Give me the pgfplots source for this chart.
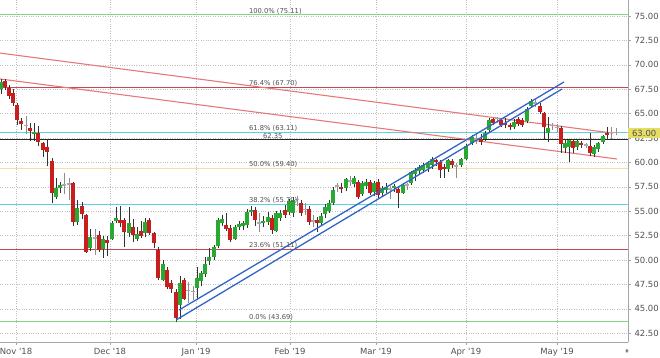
\documentclass[border=0pt]{standalone}
\usepackage{fontspec}
\setmainfont{DejaVu Sans}
\usepackage{pgfplots}
\usepackage{pgfplotstable}
\pgfplotsset{compat=1.18}
\definecolor{cgreen}{RGB}{40,170,50}
\definecolor{cred}{RGB}{200,30,30}
\definecolor{cgray}{RGB}{170,170,170}
\definecolor{wick}{RGB}{50,50,50}
\definecolor{wickgray}{RGB}{140,140,140}
\definecolor{fibgreen}{RGB}{130,215,130}
\definecolor{fibred}{RGB}{200,70,80}
\definecolor{fibcyan}{RGB}{90,210,225}
\definecolor{fibyellow}{RGB}{240,225,170}
\definecolor{trendred}{RGB}{230,120,120}
\definecolor{chanblue}{RGB}{50,100,200}
\definecolor{pricebox}{RGB}{230,222,100}
\definecolor{labgray}{RGB}{80,80,80}

\pgfplotstableread{
x o h l c
1 67.5 68.5 67.0 68.2
34 62.9 64.0 62.2 63.1
56 56.5 58.4 56.2 57.4
60 57.4 58.0 56.9 57.7
77 53.9 56.1 53.6 55.3
90 51.2 53.2 50.9 52.4
103 51.1 52.5 50.2 52.2
112 52.2 54.0 52.0 53.8
116 54.0 55.4 53.8 54.3
129 52.8 55.4 52.4 53.8
137 52.2 53.4 51.9 52.7
145 52.8 54.3 52.4 53.9
163 48.0 50.0 47.8 49.6
180 45.4 48.4 44.0 47.6
197 47.1 49.3 45.9 48.2
201 47.8 48.9 47.3 48.7
205 48.6 50.3 48.3 49.6
209 49.9 51.2 49.5 50.3
214 50.3 51.5 50.0 51.3
218 51.4 54.3 51.2 54.1
222 53.8 54.6 53.5 54.2
235 52.2 53.6 52.0 53.4
239 53.4 54.0 53.1 53.7
243 53.5 54.0 53.1 53.8
247 53.6 55.2 53.3 54.9
251 54.9 55.5 54.5 55.1
263 53.8 54.5 53.4 54.0
268 53.9 54.9 53.6 54.4
276 53.0 55.0 52.9 54.8
280 54.3 55.1 54.0 54.8
289 54.9 56.3 54.6 56.0
293 54.8 56.5 54.4 56.1
321 53.8 54.8 53.6 54.5
325 54.7 55.7 54.3 55.4
329 55.0 56.1 54.8 55.8
333 55.8 57.5 55.6 57.2
346 57.4 58.4 57.1 58.3
354 57.8 58.6 57.5 58.4
362 56.8 58.1 56.6 57.9
366 57.6 58.3 57.3 58.0
374 57.0 58.1 56.6 57.9
382 56.9 57.6 56.6 57.4
386 57.2 57.9 56.9 57.5
394 57.4 57.8 57.0 57.6
403 56.9 57.9 56.8 57.7
411 57.9 59.1 57.7 59.0
415 58.8 59.4 58.1 59.2
419 59.1 59.7 58.7 59.5
423 59.2 59.9 58.9 59.7
428 59.4 60.1 59.0 59.9
432 59.7 60.6 59.3 60.4
448 59.3 60.4 59.0 60.2
461 59.7 60.5 59.5 60.3
466 60.4 61.9 60.2 61.7
472 62.0 62.8 61.8 62.6
485 62.4 63.2 62.2 63.0
489 63.3 64.5 63.1 64.3
514 63.6 64.4 63.4 64.1
527 64.2 65.7 64.0 65.5
531 65.8 66.5 65.6 66.3
548 63.0 64.7 62.1 63.5
565 61.5 62.4 61.0 62.0
569 61.6 62.4 60.0 62.3
577 61.6 62.4 61.3 62.2
594 60.9 61.8 60.6 61.6
598 61.4 62.1 61.1 62.0
603 62.1 62.8 61.9 62.7
}\greentab

\pgfplotstableread{
x o h l c
5 68.3 68.5 67.4 67.7
9 67.6 67.9 66.5 66.8
13 67.1 67.5 65.8 66.1
17 65.9 66.1 63.8 64.3
21 64.2 64.6 63.3 63.9
30 63.5 64.0 62.2 63.2
38 63.0 63.7 61.7 62.1
43 62.0 62.1 60.6 61.3
47 61.6 62.3 59.6 61.1
52 60.1 60.5 55.8 56.9
73 57.9 58.0 53.5 53.9
82 55.5 55.9 54.2 54.7
86 54.6 54.7 50.7 50.8
99 52.6 53.0 50.8 51.0
107 52.1 52.5 50.4 51.7
120 54.1 55.5 53.4 53.8
124 54.1 54.3 51.3 52.9
133 53.4 54.2 51.8 52.6
141 53.0 54.0 52.3 52.5
149 54.1 54.3 52.6 52.8
154 52.8 52.9 51.2 51.7
158 51.0 51.3 48.0 48.2
167 49.0 49.3 47.0 47.2
171 47.6 48.0 46.6 47.0
176 46.7 47.0 43.69 44.1
184 48.0 48.2 45.9 46.0
226 53.6 54.8 53.0 53.2
230 53.3 53.6 51.8 52.0
255 55.1 55.4 53.5 54.1
272 54.3 54.6 52.7 53.1
285 55.1 55.6 54.3 54.6
301 55.8 56.1 54.5 54.8
309 55.2 55.5 53.6 53.9
317 54.1 54.4 52.9 53.8
341 57.5 57.9 56.9 57.3
358 58.0 58.2 56.3 56.5
370 58.0 58.2 56.7 56.9
378 58.0 58.3 56.4 56.7
398 57.3 57.5 55.3 56.9
436 60.2 60.4 59.6 60.0
440 60.0 60.2 58.4 59.2
444 59.5 59.8 58.4 59.3
452 60.1 60.3 59.4 59.7
481 62.4 62.9 61.8 62.1
493 64.4 64.6 63.8 64.0
501 64.3 64.6 63.6 63.8
505 64.0 64.5 63.5 63.8
510 63.8 64.0 63.3 63.6
518 64.4 64.7 63.7 63.9
522 64.3 64.5 63.6 63.8
540 65.8 66.1 65.0 65.2
544 65.1 65.2 62.3 63.6
561 63.5 63.7 61.0 61.9
573 62.2 62.3 61.0 61.5
581 62.0 62.2 61.5 61.8
590 61.7 63.0 60.7 61.0
607 63.0 63.6 62.4 62.8
}\redtab

\pgfplotstableread{
x o h l c
26 63.85 64.8 62.9 63.7
64 57.75 58.9 56.8 57.6
69 57.85 58.4 56.1 57.7
95 52.35 53.2 50.5 52.2
188 46.95 47.7 45.6 46.8
193 46.85 47.3 45.9 46.7
259 53.85 54.8 52.9 53.7
297 56.25 56.6 55.5 56.1
305 55.25 55.8 54.6 55.1
313 54.05 54.6 53.4 53.9
337 57.65 57.9 57.0 57.5
350 58.15 58.6 57.6 58.0
390 57.35 57.6 56.3 57.2
407 57.75 57.9 57.2 57.6
456 59.70 59.9 58.4 59.55
476 62.45 62.9 61.9 62.3
497 64.55 64.7 64.0 64.4
535 66.15 66.5 65.7 66.0
552 63.85 64.0 63.3 63.7
557 63.65 63.9 63.1 63.5
586 61.85 62.0 61.5 61.7
611 63.15 63.6 62.4 63.0
616 63.15 63.5 62.8 63.0
}\graytab

\pgfplotsset{
  candle/.style 2 args={draw=none, no markers, forget plot,
    error bars/.cd, y dir=plus, y explicit, error mark=none,
    error bar style={line width=#1, draw=#2, solid}},
  hline/.style={draw=#1, line width=0.9bp, no markers, forget plot},
}

\begin{document}
\begin{tikzpicture}
\useasboundingbox (0,0) rectangle (660bp,358bp);
\begin{axis}[
  at={(0,16bp)}, anchor=south west,
  scale only axis, width=628bp, height=342bp,
  xmin=0, xmax=628, ymin=41.6, ymax=76.64,
  axis x line*=bottom, axis y line*=right,
  axis line style={draw=gray!70, line width=0.5bp},
  xtick={16,110,196,290,376,466,557},
  xticklabels={Nov \textquotesingle18, Dec \textquotesingle18, Jan \textquotesingle19, Feb \textquotesingle19, Mar \textquotesingle19, Apr \textquotesingle19, May \textquotesingle19},
  ytick={42.5,45,47.5,50,52.5,55,57.5,60,62.5,65,67.5,70,72.5,75},
  yticklabel pos=right,
  tick label style={font=\fontsize{8.5}{10}\selectfont, text=labgray},
  y tick label style={/pgf/number format/.cd, fixed, fixed zerofill, precision=2, assume math mode=true},
  tick align=outside, major tick length=3bp,
  tick style={draw=gray!70, line width=0.4bp},
  grid=major,
  major grid style={dotted, draw=gray!50, line width=0.4bp},
  clip=true,
]
% fibonacci levels
\addplot[hline=fibgreen] coordinates {(0,75.11) (628,75.11)};
\addplot[hline=fibred] coordinates {(0,67.70) (628,67.70)};
\addplot[hline=fibcyan] coordinates {(0,63.11) (628,63.11)};
\addplot[hline=black!85, line width=1.6bp] coordinates {(0,62.35) (628,62.35)};
\addplot[hline=fibyellow] coordinates {(0,59.40) (628,59.40)};
\addplot[hline=fibcyan] coordinates {(0,55.70) (628,55.70)};
\addplot[hline=fibred] coordinates {(0,51.11) (628,51.11)};
\addplot[hline=fibgreen] coordinates {(0,43.69) (628,43.69)};
% trend lines
\addplot[hline=trendred, line width=1.1bp] coordinates {(0,71.2) (613,63.0)};
\addplot[hline=trendred, line width=1.1bp] coordinates {(0,68.55) (617,60.35)};
% wicks
\addplot[candle={0.7bp}{wick}] table[x=x, y=l, y error plus expr={\thisrow{h}-\thisrow{l}}] {\greentab};
\addplot[candle={0.7bp}{wick}] table[x=x, y=l, y error plus expr={\thisrow{h}-\thisrow{l}}] {\redtab};
\addplot[candle={0.7bp}{wickgray}] table[x=x, y=l, y error plus expr={\thisrow{h}-\thisrow{l}}] {\graytab};
% bodies
\addplot[candle={3.2bp}{cgreen}] table[x=x, y expr={min(\thisrow{o},\thisrow{c})}, y error plus expr={abs(\thisrow{c}-\thisrow{o})}] {\greentab};
\addplot[candle={3.2bp}{cred}] table[x=x, y expr={min(\thisrow{o},\thisrow{c})}, y error plus expr={abs(\thisrow{c}-\thisrow{o})}] {\redtab};
\addplot[candle={3.2bp}{cgray}] table[x=x, y expr={min(\thisrow{o},\thisrow{c})}, y error plus expr={abs(\thisrow{c}-\thisrow{o})}] {\graytab};
% channel
\addplot[hline=chanblue, line width=1.3bp] coordinates {(176,43.85) (562,67.52)};
\addplot[hline=chanblue, line width=1.3bp] coordinates {(179,44.88) (564,68.24)};
% labels
\begin{scope}[every node/.style={font=\fontsize{6.8}{8}\selectfont, text=labgray, anchor=south west, inner sep=0.8bp}]
\node at (axis cs:248,75.11) {100.0\% (75.11)};
\node at (axis cs:248,67.70) {76.4\% (67.70)};
\node at (axis cs:248,63.11) {61.8\% (63.11)};
\node at (axis cs:262,62.35) {62.35};
\node at (axis cs:248,59.40) {50.0\% (59.40)};
\node at (axis cs:248,55.70) {38.2\% (55.70)};
\node at (axis cs:248,51.11) {23.6\% (51.11)};
\node at (axis cs:248,43.69) {0.0\% (43.69)};
\end{scope}
\coordinate (pb) at (axis cs:628,63.0);
\coordinate (dm) at (axis cs:627,41.6);
\end{axis}
\node[anchor=west, fill=pricebox, inner xsep=1.5bp, inner ysep=1.5bp, minimum width=32bp, font=\fontsize{8.5}{10}\selectfont, text=labgray] at (pb) {63.00};
\node[anchor=north, font=\fontsize{6}{7}\selectfont, text=gray, inner sep=1bp, yshift=-6bp] at (dm) {♦};
\end{tikzpicture}
\end{document}
